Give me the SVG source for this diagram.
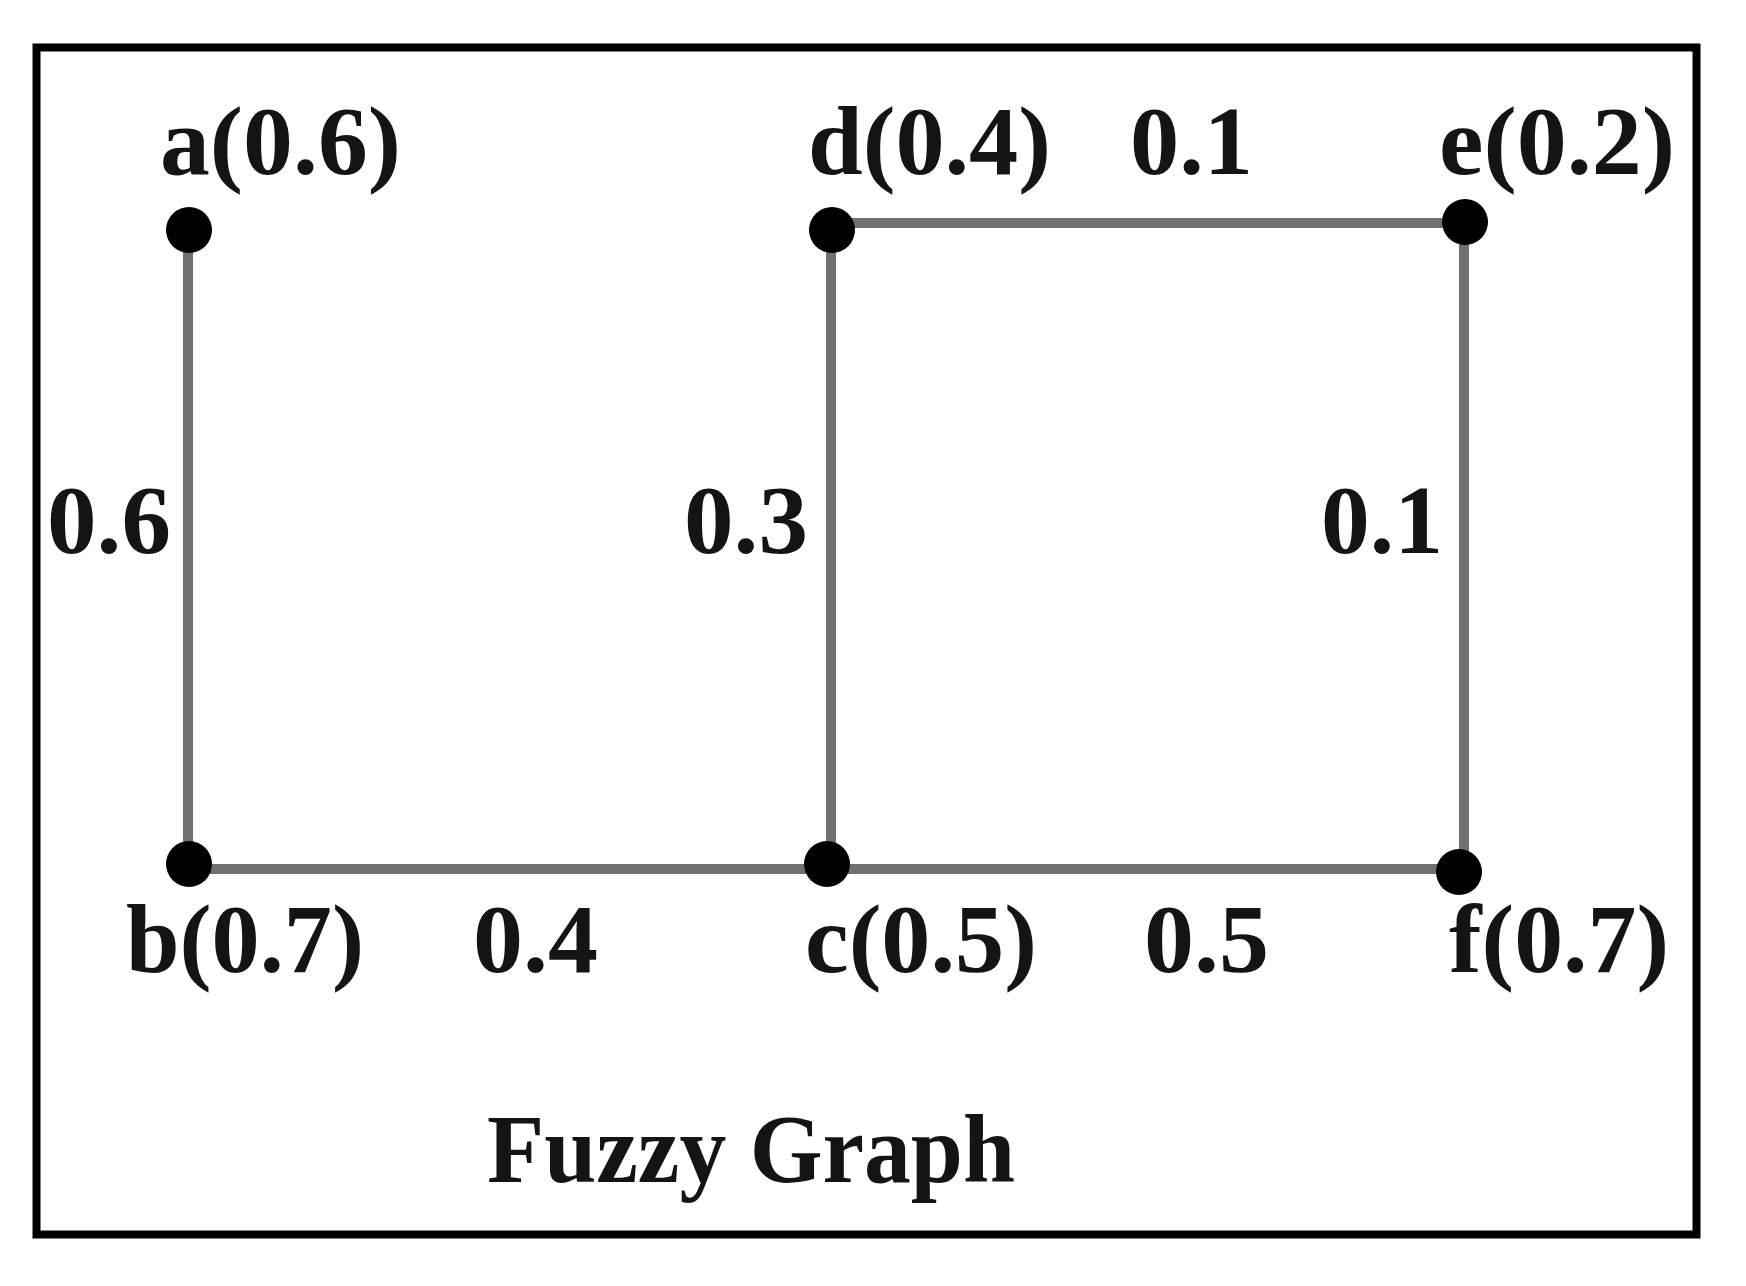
<svg xmlns="http://www.w3.org/2000/svg" width="1746" height="1286" viewBox="0 0 1746 1286">
<style>
.lbl{font-family:"Liberation Serif","Times New Roman",serif;font-weight:bold;font-size:97px;fill:#141414}
.edge{stroke:#707070;stroke-width:10;fill:none}
.dot{fill:#000}
</style>
<rect x="0" y="0" width="1746" height="1286" fill="#fff"/>
<rect id="frame" x="36.5" y="47.5" width="1660" height="1187" fill="none" stroke="#000" stroke-width="8"/>
<g id="connectors">
<line class="edge" x1="188" y1="230" x2="188" y2="864"/>
<line class="edge" x1="831" y1="230" x2="831" y2="864"/>
<line class="edge" x1="1464" y1="222" x2="1464" y2="872"/>
<line class="edge" x1="831" y1="223" x2="1464" y2="223"/>
<line class="edge" x1="188" y1="869" x2="1459" y2="869"/>
<text class="lbl" x="1130" y="174" textLength="123" lengthAdjust="spacingAndGlyphs">0.1</text>
<text class="lbl" x="47" y="553" textLength="124" lengthAdjust="spacingAndGlyphs">0.6</text>
<text class="lbl" x="684" y="553" textLength="124" lengthAdjust="spacingAndGlyphs">0.3</text>
<text class="lbl" x="1321" y="553" textLength="122" lengthAdjust="spacingAndGlyphs">0.1</text>
<text class="lbl" x="473" y="972" textLength="125" lengthAdjust="spacingAndGlyphs">0.4</text>
<text class="lbl" x="1144" y="972" textLength="125" lengthAdjust="spacingAndGlyphs">0.5</text>
</g>
<g id="node-a"><circle class="dot" cx="189" cy="230" r="23"/><text class="lbl" x="160" y="174" textLength="241" lengthAdjust="spacingAndGlyphs">a(0.6)</text></g>
<g id="node-d"><circle class="dot" cx="832" cy="230" r="23"/><text class="lbl" x="808" y="174" textLength="243" lengthAdjust="spacingAndGlyphs">d(0.4)</text></g>
<g id="node-e"><circle class="dot" cx="1465" cy="222" r="23"/><text class="lbl" x="1439" y="174" textLength="236" lengthAdjust="spacingAndGlyphs">e(0.2)</text></g>
<g id="node-b"><circle class="dot" cx="189" cy="864" r="23"/><text class="lbl" x="126" y="972" textLength="238" lengthAdjust="spacingAndGlyphs">b(0.7)</text></g>
<g id="node-c"><circle class="dot" cx="827" cy="864" r="23"/><text class="lbl" x="805" y="972" textLength="232" lengthAdjust="spacingAndGlyphs">c(0.5)</text></g>
<g id="node-f"><circle class="dot" cx="1459" cy="872" r="23"/><text class="lbl" x="1449" y="972" textLength="220" lengthAdjust="spacingAndGlyphs">f(0.7)</text></g>
<text id="title" class="lbl" x="487" y="1182" textLength="528" lengthAdjust="spacingAndGlyphs">Fuzzy Graph</text>
</svg>
